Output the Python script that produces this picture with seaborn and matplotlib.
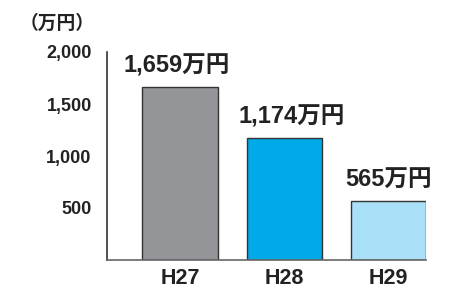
import matplotlib
matplotlib.use("Agg")
import matplotlib.pyplot as plt
import seaborn as sns
import pandas as pd

categories = ["H27", "H28", "H29"]
values = [1659, 1174, 565]
bar_labels = ["1,659万円", "1,174万円", "565万円"]
yticks = [500, 1000, 1500, 2000]
ytick_labels = ["500", "1,000", "1,500", "2,000"]
unit_label = "（万円）"
colors = ["#939598", "#00a9e8", "#aadff8"]

sns.set_theme(style="white")
plt.rcParams["font.family"] = ["Liberation Sans", "Noto Sans CJK JP", "DejaVu Sans"]
plt.rcParams["font.weight"] = "bold"

df = pd.DataFrame({"cat": categories, "val": values})

fig = plt.figure(figsize=(4.68, 2.90), dpi=100)
ax = fig.add_axes([107 / 468, 30 / 290, 319 / 468, 208 / 290])

sns.barplot(data=df, x="cat", y="val", hue="cat", palette=colors, width=0.72,
            saturation=1, edgecolor="#333333", linewidth=1.0, legend=False,
            dodge=False, ax=ax)

ax.set_ylim(0, 2000)
ax.set_xlim(-0.70, 2.36)
ax.set_yticks(yticks)
ax.set_yticklabels(ytick_labels, fontsize=13, fontweight="bold", color="#222222")
ax.tick_params(axis="y", direction="in", length=5, width=1.0, color="#333333", pad=11)
ax.tick_params(axis="x", length=0, pad=6)
for lbl in ax.get_xticklabels():
    lbl.set_fontsize(15.5)
    lbl.set_fontweight("bold")
    lbl.set_color("#222222")
ax.set_xlabel("")
ax.set_ylabel("")

for s in ["top", "right"]:
    ax.spines[s].set_visible(False)
ax.spines["left"].set_color("#333333")
ax.spines["left"].set_linewidth(1.2)
ax.spines["bottom"].set_color("#666666")
ax.spines["bottom"].set_linewidth(1.2)

offsets = [-0.03, 0.07, 0.0]
for i, (v, t) in enumerate(zip(values, bar_labels)):
    ax.annotate(t, xy=(i + offsets[i], v), xytext=(0, 7), textcoords="offset points",
                ha="center", va="bottom", fontsize=17, fontweight="bold", color="#222222",
                family=["Liberation Sans", "Noto Sans CJK JP"])

fig.text(57 / 468, 1 - 23 / 290, unit_label, ha="center", va="center", fontsize=13.5,
         fontweight="bold", color="#222222", family=["Noto Sans CJK JP"])

fig.savefig("out.png", dpi=100)
